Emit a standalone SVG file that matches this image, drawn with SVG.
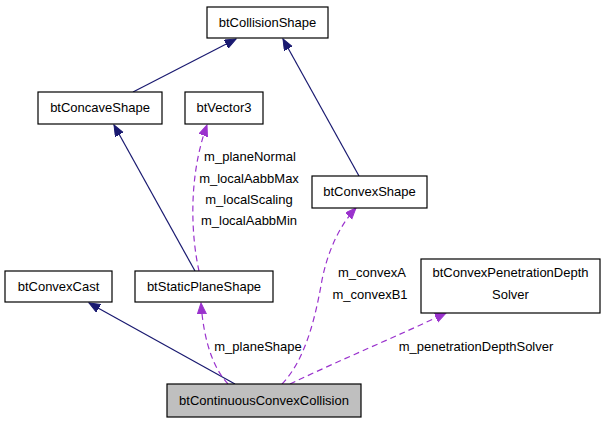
<svg xmlns="http://www.w3.org/2000/svg" width="605" height="424" viewBox="0 0 605 424">
<style>
.n rect{fill:#fff;stroke:#000;stroke-width:1.2}
.n.cur rect{fill:#bfbfbf}
text{font-family:"Liberation Sans",Arial,sans-serif;font-size:13px;fill:#000;text-anchor:middle}
.inh{fill:none;stroke:#191970;stroke-width:1.2}
.use{fill:none;stroke:#9a32cd;stroke-width:1.2;stroke-dasharray:6,4}
</style>
<defs>
<marker id="an" markerUnits="userSpaceOnUse" markerWidth="12" markerHeight="10" refX="11" refY="4.5" orient="auto"><path d="M0,0 L11,4.5 L0,9 z" fill="#191970" stroke="#191970"/></marker>
<marker id="ap" markerUnits="userSpaceOnUse" markerWidth="12" markerHeight="10" refX="11" refY="4.5" orient="auto"><path d="M0,0 L11,4.5 L0,9 z" fill="#9a32cd" stroke="#9a32cd"/></marker>
</defs>
<rect width="605" height="424" fill="#fff"/>
<g id="edges">
<path class="inh" d="M133,92 L236,39" marker-end="url(#an)"/>
<path class="inh" d="M359,176 L283,39" marker-end="url(#an)"/>
<path class="inh" d="M195,271 L114,125" marker-end="url(#an)"/>
<path class="inh" d="M235,384 L89,303" marker-end="url(#an)"/>
<path class="use" d="M199,271 C192,240 187,180 207,125" marker-end="url(#ap)"/>
<path class="use" d="M228,384 C215,370 204,345 201,303" marker-end="url(#ap)"/>
<path class="use" d="M282,384 C305,360 315,320 322,280 C328,250 340,225 356,208" marker-end="url(#ap)"/>
<path class="use" d="M290,384 C340,360 400,335 446,313" marker-end="url(#ap)"/>
<text x="250" y="161">m_planeNormal</text>
<text x="249" y="183">m_localAabbMax</text>
<text x="249" y="204">m_localScaling</text>
<text x="249" y="225">m_localAabbMin</text>
<text x="258" y="351">m_planeShape</text>
<text x="372" y="277">m_convexA</text>
<text x="370" y="299">m_convexB1</text>
<text x="476" y="351">m_penetrationDepthSolver</text>
</g>
<g id="btCollisionShape" class="n"><rect x="207" y="7" width="121" height="31"/><text x="267.5" y="27">btCollisionShape</text></g>
<g id="btConcaveShape" class="n"><rect x="38" y="92" width="124" height="32"/><text x="100" y="112">btConcaveShape</text></g>
<g id="btVector3" class="n"><rect x="185" y="92" width="78" height="32"/><text x="224" y="112">btVector3</text></g>
<g id="btConvexShape" class="n"><rect x="312" y="176" width="115" height="32"/><text x="369.5" y="196">btConvexShape</text></g>
<g id="btConvexPenetrationDepthSolver" class="n"><rect x="421" y="259" width="179" height="54"/><text x="510.5" y="277">btConvexPenetrationDepth</text><text x="510.5" y="299">Solver</text></g>
<g id="btConvexCast" class="n"><rect x="5" y="271" width="107" height="31"/><text x="58.5" y="291">btConvexCast</text></g>
<g id="btStaticPlaneShape" class="n"><rect x="135" y="271" width="138" height="31"/><text x="204" y="291">btStaticPlaneShape</text></g>
<g id="btContinuousConvexCollision" class="n cur"><rect x="167" y="384" width="194" height="33"/><text x="264" y="405">btContinuousConvexCollision</text></g>
</svg>
